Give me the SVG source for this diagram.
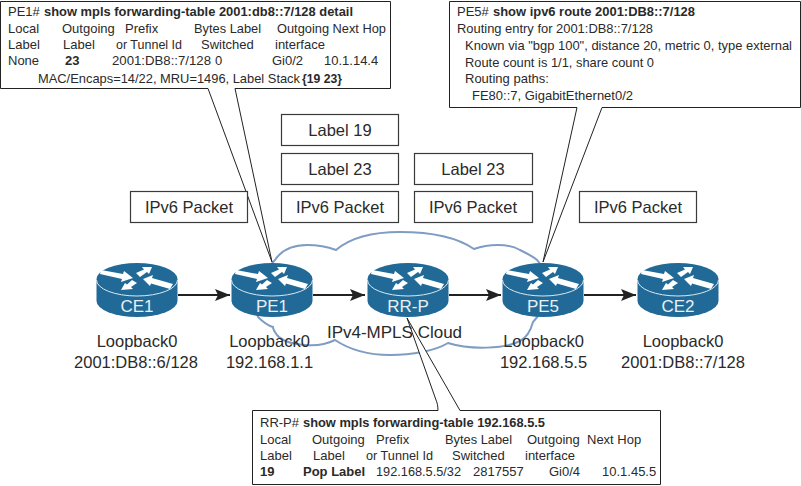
<svg xmlns="http://www.w3.org/2000/svg" xmlns:xlink="http://www.w3.org/1999/xlink" width="801" height="486" viewBox="0 0 801 486">
<style>
text{font-family:"Liberation Sans",Arial,sans-serif;fill:#2a2a2a}
.t{font-size:13px}
.l{font-size:16.500px;text-anchor:middle}
.b{font-weight:bold}
.box{fill:#fff;stroke:#3a3a3a;stroke-width:1.200}
.call{fill:#fff;stroke:#222;stroke-width:1}
.cn{fill:none;stroke:#222;stroke-width:2}
.rn{font-size:17px;text-anchor:middle;fill:#e8f0f5}
</style>
<defs>
<marker id="ah" markerWidth="16" markerHeight="12" refX="15" refY="6" orient="auto" markerUnits="userSpaceOnUse"><path d="M0,0L15,6L0,12L3,6Z" fill="#222"/></marker>
<g id="router">
<path d="M-40.500,0V22A40.500,16 0 0 0 40.500,22V0A40.500,16 0 0 0 -40.500,0Z" fill="#216a97"/>
<path d="M-40.500,1A40.500,16 0 0 0 40.500,1" fill="none" stroke="#dbe8f0" stroke-width="1"/>
<path d="M-36,-9L-14,-5L-13,-8L-4,-1L-16,3L-15,0L-37,-5ZM-1,-6L7,-9.500L5,-12L15,-12L12,-5L10,-7L3,-2ZM6,0L16,-4L15,-1L36,5L33,10L14,4.500L13,7ZM-16,11L-12,4L-10,5.500L-5,1L0,4L-6,8L-4,10Z" fill="#fff"/>
</g>
</defs>
<g id="cloud"><path d="M275,260C283,248 295,245 307,245C318,245 328,247 336,250C350,238 372,232 400,232C432,232 458,238 474,249C488,244 508,243 520,250C528,254 534,257 537,260L560,290L533,322C530,333 526,338 520,341C505,349 470,350 448,343C435,351 412,355 390,355C368,355 350,350 335,340C325,345 315,346 305,345C292,344 282,341 277,335C274,331 273,329 273,327C266,325 262,321 258,317L250,290Z" fill="none" stroke="#7f9dc2" stroke-width="2"/></g>
<g id="callout-pe1"><path class="call" d="M0.500,1.500H390.500V88.500H235L272,262L208,88.500H0.500Z"/>
<text class="t" x="8" y="16">PE1#</text><text class="t b" x="44" y="16" textLength="309" lengthAdjust="spacingAndGlyphs">show mpls forwarding-table 2001:db8::7/128 detail</text>
<text class="t" x="8" y="33">Local</text><text class="t" x="62" y="33">Outgoing</text><text class="t" x="125" y="33">Prefix</text><text class="t" x="194" y="33" textLength="67" lengthAdjust="spacingAndGlyphs">Bytes Label</text><text class="t" x="277" y="33" textLength="109" lengthAdjust="spacingAndGlyphs">Outgoing Next Hop</text>
<text class="t" x="8" y="49">Label</text><text class="t" x="63" y="49">Label</text><text class="t" x="116" y="49" textLength="66" lengthAdjust="spacingAndGlyphs">or Tunnel Id</text><text class="t" x="201" y="49">Switched</text><text class="t" x="275" y="49">interface</text>
<text class="t" x="8" y="65">None</text><text class="t b" x="65" y="65">23</text><text class="t" x="112" y="65" textLength="99" lengthAdjust="spacingAndGlyphs">2001:DB8::7/128</text><text class="t" x="215" y="65">0</text><text class="t" x="272" y="65">Gi0/2</text><text class="t" x="324" y="65">10.1.14.4</text>
<text class="t" x="38" y="83" textLength="262" lengthAdjust="spacingAndGlyphs">MAC/Encaps=14/22, MRU=1496, Label Stack</text><text class="t b" x="302" y="83" textLength="40" lengthAdjust="spacingAndGlyphs">{19 23}</text></g>
<g id="callout-pe5"><path class="call" d="M449.500,1.500H800.500V107.500H602L543,262L577,107.500H449.500Z"/>
<text class="t" x="457" y="16">PE5#</text><text class="t b" x="493" y="16" textLength="202" lengthAdjust="spacingAndGlyphs">show ipv6 route 2001:DB8::7/128</text>
<text class="t" x="457" y="33" textLength="196" lengthAdjust="spacingAndGlyphs">Routing entry for 2001:DB8::7/128</text>
<text class="t" x="465" y="50" textLength="327" lengthAdjust="spacingAndGlyphs">Known via "bgp 100", distance 20, metric 0, type external</text>
<text class="t" x="465" y="67" textLength="189" lengthAdjust="spacingAndGlyphs">Route count is 1/1, share count 0</text>
<text class="t" x="465" y="83">Routing paths:</text>
<text class="t" x="472" y="100" textLength="161" lengthAdjust="spacingAndGlyphs">FE80::7, GigabitEthernet0/2</text></g>
<g id="callout-rrp"><path class="call" d="M252.500,410.500H438C438,406 437,402 436,400L407,318L460,410.500H660.500V484.500H252.500Z"/>
<text class="t" x="260" y="427">RR-P#</text><text class="t b" x="303" y="427" textLength="242" lengthAdjust="spacingAndGlyphs">show mpls forwarding-table 192.168.5.5</text>
<text class="t" x="260" y="444">Local</text><text class="t" x="312" y="444">Outgoing</text><text class="t" x="376" y="444">Prefix</text><text class="t" x="445" y="444" textLength="67" lengthAdjust="spacingAndGlyphs">Bytes Label</text><text class="t" x="527" y="444">Outgoing</text><text class="t" x="587" y="444">Next Hop</text>
<text class="t" x="260" y="460">Label</text><text class="t" x="313" y="460">Label</text><text class="t" x="366" y="460" textLength="67" lengthAdjust="spacingAndGlyphs">or Tunnel Id</text><text class="t" x="452" y="460">Switched</text><text class="t" x="525" y="460">interface</text>
<text class="t b" x="260" y="476">19</text><text class="t b" x="303" y="476">Pop Label</text><text class="t" x="376" y="476" textLength="85" lengthAdjust="spacingAndGlyphs">192.168.5.5/32</text><text class="t" x="473" y="476">2817557</text><text class="t" x="549" y="476">Gi0/4</text><text class="t" x="602" y="476">10.1.45.5</text></g>
<g id="packet-ce1"><rect class="box" x="130.500" y="191.500" width="117" height="31"/><text class="l" x="189" y="213">IPv6 Packet</text></g>
<g id="packet-pe1"><rect class="box" x="281.500" y="191.500" width="117" height="31"/><text class="l" x="340" y="213">IPv6 Packet</text></g>
<g id="label23-pe1"><rect class="box" x="281.500" y="153.500" width="117" height="31"/><text class="l" x="340" y="175">Label 23</text></g>
<g id="label19"><rect class="box" x="281.500" y="114.500" width="117" height="31"/><text class="l" x="340" y="136">Label 19</text></g>
<g id="packet-rrp"><rect class="box" x="414.500" y="191.500" width="118" height="31"/><text class="l" x="473" y="213">IPv6 Packet</text></g>
<g id="label23-rrp"><rect class="box" x="414.500" y="153.500" width="118" height="31"/><text class="l" x="473" y="175">Label 23</text></g>
<g id="packet-pe5"><rect class="box" x="579.500" y="191.500" width="117" height="31"/><text class="l" x="638" y="213">IPv6 Packet</text></g>
<g id="connectors">
<path class="cn" marker-end="url(#ah)" d="M178,295H230"/>
<path class="cn" marker-end="url(#ah)" d="M313,295H365"/>
<path class="cn" marker-end="url(#ah)" d="M449,295H501"/>
<path class="cn" marker-end="url(#ah)" d="M584,295H636"/>
</g>
<g id="node-ce1"><use xlink:href="#router" x="137" y="279"/><text class="rn" x="137" y="312">CE1</text></g>
<g id="node-pe1"><use xlink:href="#router" x="272" y="279"/><text class="rn" x="272" y="312">PE1</text></g>
<g id="node-rrp"><use xlink:href="#router" x="408" y="279"/><text class="rn" x="408" y="312">RR-P</text></g>
<g id="node-pe5"><use xlink:href="#router" x="543" y="279"/><text class="rn" x="543" y="312">PE5</text></g>
<g id="node-ce2"><use xlink:href="#router" x="678" y="279"/><text class="rn" x="678" y="312">CE2</text></g>
<g id="labels">
<text class="l" x="137" y="347">Loopback0</text><text class="l" x="136" y="368">2001:DB8::6/128</text>
<text class="l" x="269.500" y="347">Loopback0</text><text class="l" x="269.500" y="368">192.168.1.1</text>
<text class="l" x="394.500" y="338" style="font-size:17px">IPv4-MPLS Cloud</text>
<text class="l" x="543.500" y="347">Loopback0</text><text class="l" x="543.500" y="368">192.168.5.5</text>
<text class="l" x="683" y="347">Loopback0</text><text class="l" x="683" y="368">2001:DB8::7/128</text>
</g>
</svg>
